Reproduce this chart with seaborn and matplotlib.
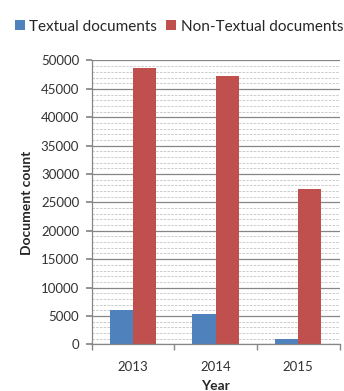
import matplotlib
matplotlib.use("Agg")
import matplotlib.pyplot as plt
from matplotlib.ticker import MultipleLocator
import seaborn as sns
import pandas as pd

years = ["2013", "2014", "2015"]
textual = [6000, 5300, 900]
non_textual = [48600, 47200, 27400]
series_names = ["Textual documents", "Non-Textual documents"]
colors = ["#4F81BD", "#C0504D"]

df = pd.DataFrame({
    "Year": years * 2,
    "count": textual + non_textual,
    "type": [series_names[0]] * 3 + [series_names[1]] * 3,
})

sns.set_theme(style="white")
plt.rcParams["font.family"] = ["Lato", "DejaVu Sans"]

fig = plt.figure(figsize=(3.44, 3.91), dpi=100)
ax = fig.add_axes([0.2666, 0.1194, 0.7204, 0.7259])

sns.barplot(data=df, x="Year", y="count", hue="type", palette=colors,
            width=0.56, gap=0, saturation=1, linewidth=0, ax=ax, legend=True)

ax.set_ylim(0, 50000)
ax.set_xlim(-0.5, 2.5)
ax.yaxis.set_major_locator(MultipleLocator(5000))
ax.yaxis.set_minor_locator(MultipleLocator(1000))
ax.grid(which="major", axis="y", color="#868686", linewidth=0.9, linestyle="-")
ax.grid(which="minor", axis="y", color="#c4c4c4", linewidth=0.6, linestyle=(0, (3, 1.5)))
ax.set_axisbelow(True)

for s in ["top", "right"]:
    ax.spines[s].set_visible(False)
for s in ["left", "bottom"]:
    ax.spines[s].set_color("#868686")
    ax.spines[s].set_linewidth(0.9)

ax.tick_params(axis="y", which="major", left=True, length=4, color="#868686",
               labelsize=9.5, labelcolor="#333333", pad=5)
ax.tick_params(axis="y", which="minor", left=False)
ax.tick_params(axis="x", which="major", bottom=False, labelsize=9.5,
               labelcolor="#333333", pad=6)
# category separator ticks on the x axis
ax.set_xticks([-0.5, 0.5, 1.5, 2.5], minor=True)
ax.tick_params(axis="x", which="minor", bottom=True, length=4, color="#868686")

ax.set_xlabel("Year", fontsize=10, fontweight="bold", labelpad=5)
ax.set_ylabel("Document count", fontsize=10, fontweight="bold", labelpad=6)

handles, labels = ax.get_legend_handles_labels()
ax.get_legend().remove()
fig.legend(handles, labels, loc="upper center", bbox_to_anchor=(0.52, 0.985),
           ncol=2, frameon=False, fontsize=11, handlelength=0.65,
           handleheight=0.65, handletextpad=0.3, columnspacing=0.6)

fig.savefig("out.png", dpi=100)
